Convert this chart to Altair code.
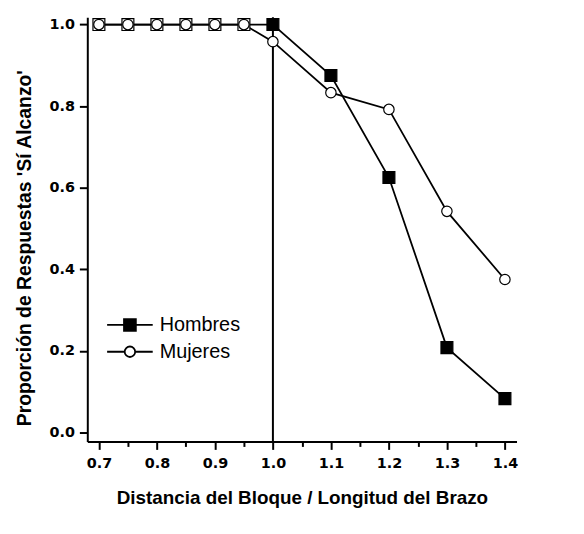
import altair as alt
import pandas as pd

# ---- data ----
distancia = [0.70, 0.75, 0.80, 0.85, 0.90, 0.95, 1.00, 1.10, 1.20, 1.30, 1.40]
hombres = [1.0, 1.0, 1.0, 1.0, 1.0, 1.0, 1.0, 0.875, 0.625, 0.208, 0.083]
mujeres = [1.0, 1.0, 1.0, 1.0, 1.0, 1.0, 0.958, 0.833, 0.792, 0.542, 0.375]
series = ["Hombres", "Mujeres"]
x_ticks = [0.7, 0.8, 0.9, 1.0, 1.1, 1.2, 1.3, 1.4]
x_minor = [0.75, 0.85, 0.95, 1.05, 1.15, 1.25, 1.35]
y_ticks = [0.0, 0.2, 0.4, 0.6, 0.8, 1.0]
linea_ref = [1.0]

rows = []
for i, xv in enumerate(distancia):
    rows.append({"x": xv, "y": hombres[i], "serie": series[0],
                 "igual": bool(hombres[i] == mujeres[i])})
for i, xv in enumerate(distancia):
    rows.append({"x": xv, "y": mujeres[i], "serie": series[1], "igual": False})
df = pd.DataFrame(rows)

x_scale = alt.Scale(domain=[0.68, 1.42], nice=False, zero=False)
y_scale = alt.Scale(domain=[-0.022, 1.018], nice=False, zero=False)

TICK_FONT = "DejaVu Sans"
TITLE_FONT = "Liberation Sans"

x_axis = alt.Axis(
    values=x_ticks, format=".1f", orient="bottom", grid=False,
    title="Distancia del Bloque / Longitud del Brazo",
    titleFont=TITLE_FONT, titleFontSize=19, titleFontWeight="bold", titleColor="black",
    titleBaseline="alphabetic", titleX=216.5, titleY=63,
    labelFont=TICK_FONT, labelFontSize=14.5, labelFontWeight="bold", labelColor="black",
    labelPadding=7, tickSize=8, tickWidth=2, tickColor="black",
    domainColor="black", domainWidth=2, zindex=1,
)
y_axis = alt.Axis(
    values=y_ticks, format=".1f", orient="left", grid=False,
    title="Proporción de Respuestas 'Sí Alcanzo'",
    titleFont=TITLE_FONT, titleFontSize=19.5, titleFontWeight="bold", titleColor="black",
    titleBaseline="alphabetic", titleX=-57, titleY=232.5,
    labelFont=TICK_FONT, labelFontSize=14.5, labelFontWeight="bold", labelColor="black",
    labelPadding=5, tickSize=8, tickWidth=2, tickColor="black",
    domainColor="black", domainWidth=2, zindex=1,
)

# legend symbols: a short line with the series marker in the middle (unit box -1..1)
sym_hombres = "M-1,0H-0.26M0.26,0H1M-0.26,-0.26H0.26V0.26H-0.26Z"
sym_mujeres = ("M-1,0H-0.23M0.23,0H1M0.23,0A0.23,0.23,0,1,1,-0.23,0"
               "A0.23,0.23,0,1,1,0.23,0Z")

leyenda = alt.Legend(
    title=None, orient="none", legendX=19, legendY=301, padding=0,
    symbolSize=2116, symbolStrokeWidth=1.8, symbolStrokeColor="black", symbolOpacity=1,
    labelFont=TITLE_FONT, labelFontSize=20, labelColor="black", labelOffset=6,
    rowPadding=6, clipHeight=19,
)

lineas = alt.Chart(df).mark_line(strokeWidth=1.8, color="black").encode(
    x=alt.X("x:Q", scale=x_scale, axis=x_axis),
    y=alt.Y("y:Q", scale=y_scale, axis=y_axis),
    detail="serie:N",
)

regla = alt.Chart(pd.DataFrame({"x": linea_ref})).mark_rule(color="black", strokeWidth=2).encode(
    x=alt.X("x:Q", scale=x_scale,
            axis=alt.Axis(values=x_minor, orient="bottom", labels=False, domain=False,
                          grid=False, title=None, tickSize=5, tickWidth=2, tickColor="black")),
)

puntos = alt.Chart(df).mark_point(stroke="black", strokeWidth=1.2, opacity=1).encode(
    x=alt.X("x:Q", scale=x_scale, axis=None),
    y=alt.Y("y:Q", scale=y_scale),
    shape=alt.Shape("serie:N", scale=alt.Scale(domain=series, range=["square", "circle"]),
                    legend=None),
    fill=alt.condition(
        "datum.igual", alt.value("white"),
        alt.Fill("serie:N", scale=alt.Scale(domain=series, range=["black", "white"]),
                 legend=None)),
    size=alt.Size("serie:N", scale=alt.Scale(domain=series, range=[144, 110]), legend=None),
)

# legend-only layer (no visible marks; entries come from the explicit scale domain)
leyenda_capa = alt.Chart(df).transform_filter("false").mark_point(
    strokeWidth=1.8, opacity=1
).encode(
    shape=alt.Shape("serie:N", scale=alt.Scale(domain=series, range=[sym_hombres, sym_mujeres]),
                    legend=leyenda),
    fill=alt.Fill("serie:N", scale=alt.Scale(domain=series, range=["black", "white"]),
                  legend=leyenda),
    stroke=alt.Stroke("serie:N", scale=alt.Scale(domain=series, range=["black", "black"]),
                      legend=leyenda),
)

chart = alt.layer(lineas, regla, puntos, leyenda_capa).resolve_axis(
    x="independent"
).resolve_scale(shape="independent", fill="independent", stroke="independent").properties(
    width=433, height=428,
    autosize=alt.AutoSizeParams(type="none"),
    padding={"left": 80, "top": 7, "right": 60, "bottom": 80},
    background="white",
).configure_view(stroke=None)

chart.save("out.html", embed_options={"renderer": "svg", "actions": False})
